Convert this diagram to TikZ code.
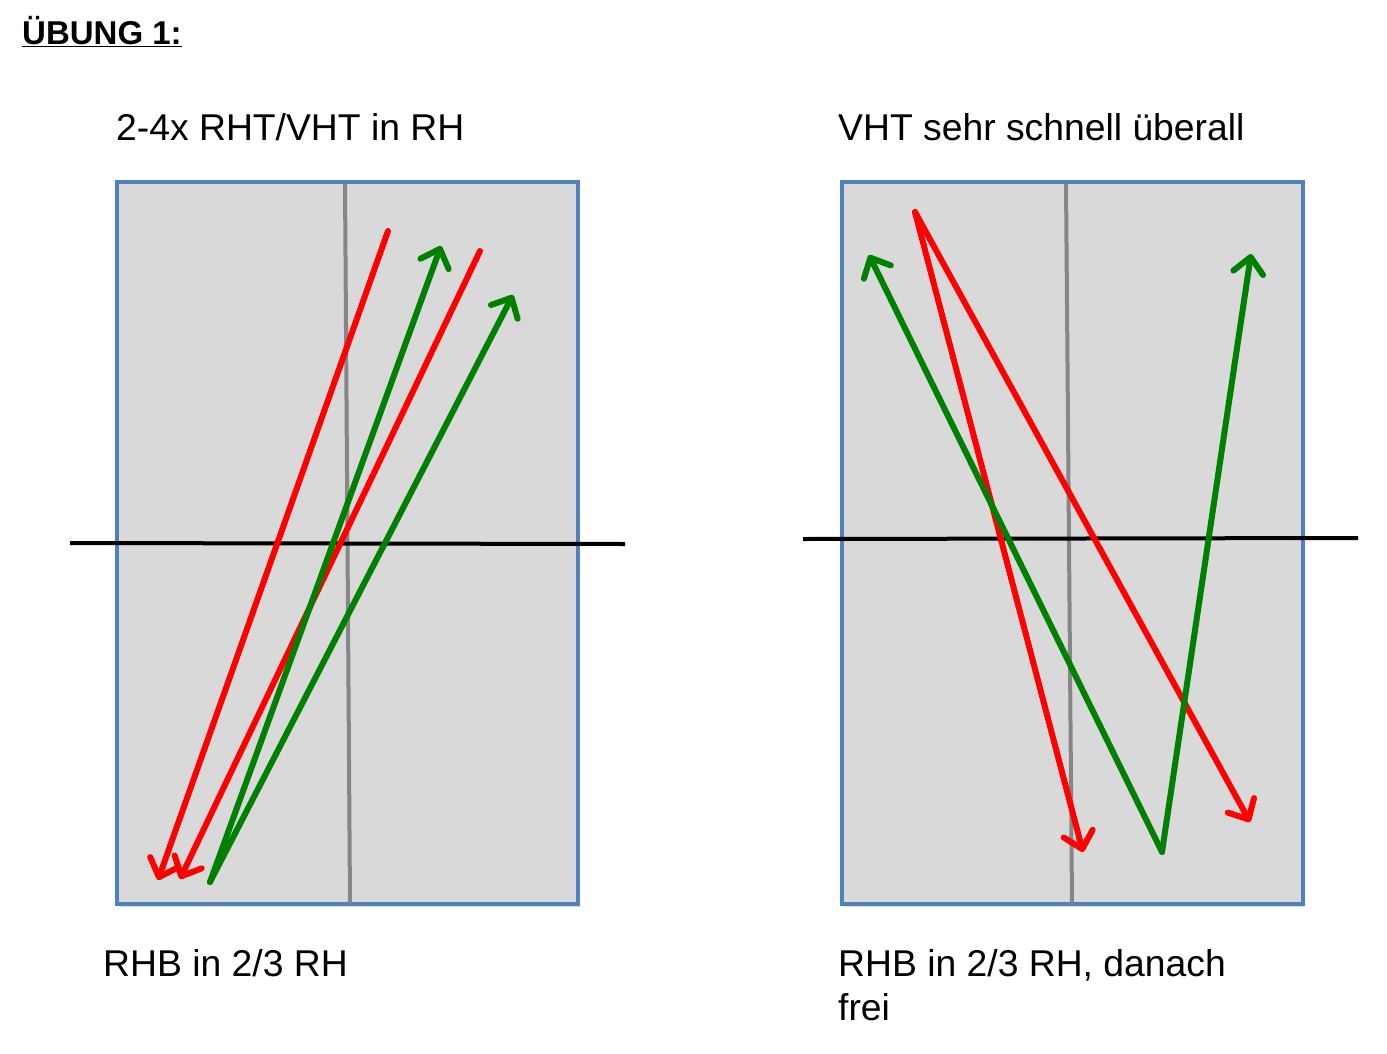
\documentclass[tikz,border=0pt]{standalone}
\usepackage{fontspec}
\setmainfont{Liberation Sans}
\usetikzlibrary{arrows.meta,shadows}
\definecolor{boxblue}{HTML}{4F81BD}
\definecolor{boxfill}{HTML}{D9D9D9}
\definecolor{grn}{HTML}{008000}
\definecolor{rd}{HTML}{FF0000}
\begin{document}
\begin{tikzpicture}[x=1pt,y=-1pt,
  field/.style={draw=boxblue,line width=4pt,fill=boxfill,drop shadow={opacity=0.25,shadow xshift=2pt,shadow yshift=-3pt}},
  midline/.style={draw=gray!95,line width=4pt},
  crossline/.style={draw=black,line width=4pt},
  mv/.style={line width=6pt,line cap=round,-{Straight Barb[length=16pt,width=30pt,round,line width=6pt]}},
  lbl/.style={font=\fontsize{37.3}{44}\selectfont,anchor=base west,inner sep=0pt,align=left}
]
\useasboundingbox (0,0) rectangle (1387,1053);
\fill[white] (0,0) rectangle (1387,1053);

% title
\node[anchor=base west,inner sep=0pt,font=\fontsize{33}{40}\selectfont\bfseries] (title) at (22,44) {\underline{ÜBUNG 1:}};

% labels
\node[lbl] (t1) at (116,140) {2-4x RHT/VHT in RH};
\node[lbl] (t2) at (838,140) {VHT sehr schnell überall};
\node[lbl] (b1) at (103,976) {RHB in 2/3 RH};
\node[lbl] (b2) at (838,1020) {RHB in 2/3 RH, danach\\frei};

% left field
\path[field] (117,182) rectangle (578,904);
\coordinate (lmt) at (345,184);
\coordinate (lmb) at (350,903);
\draw[midline] (lmt) -- (lmb);
\coordinate (lhl) at (70,543);
\coordinate (lhr) at (625,544);
\draw[crossline] (lhl) -- (lhr);

\coordinate (lr1s) at (388,231);
\coordinate (lr1e) at (158,880);
\coordinate (lr2s) at (480,251);
\coordinate (lr2e) at (180,879);
\coordinate (lgs) at (210,882);
\coordinate (lg1e) at (441,246);
\coordinate (lg2e) at (513,295);
\draw[mv,draw=rd] (lr1s) -- (lr1e);
\draw[mv,draw=rd] (lr2s) -- (lr2e);
\draw[mv,draw=grn] (lgs) -- (lg1e);
\draw[mv,draw=grn] (lgs) -- (lg2e);

% right field
\path[field] (842,182) rectangle (1303,904);
\coordinate (rmt) at (1066,184);
\coordinate (rmb) at (1072,903);
\draw[midline] (rmt) -- (rmb);
\coordinate (rhl) at (803,539);
\coordinate (rhr) at (1358,538);
\draw[crossline] (rhl) -- (rhr);

\coordinate (rrs) at (915,212);
\coordinate (rr1e) at (1083,852);
\coordinate (rr2e) at (1250,822);
\coordinate (rgs) at (1162,852);
\coordinate (rg1e) at (869,255);
\coordinate (rg2e) at (1251,254);
\draw[mv,draw=rd] (rrs) -- (rr1e);
\draw[mv,draw=rd] (rrs) -- (rr2e);
\draw[mv,draw=grn] (rgs) -- (rg1e);
\draw[mv,draw=grn] (rgs) -- (rg2e);
\end{tikzpicture}
\end{document}
